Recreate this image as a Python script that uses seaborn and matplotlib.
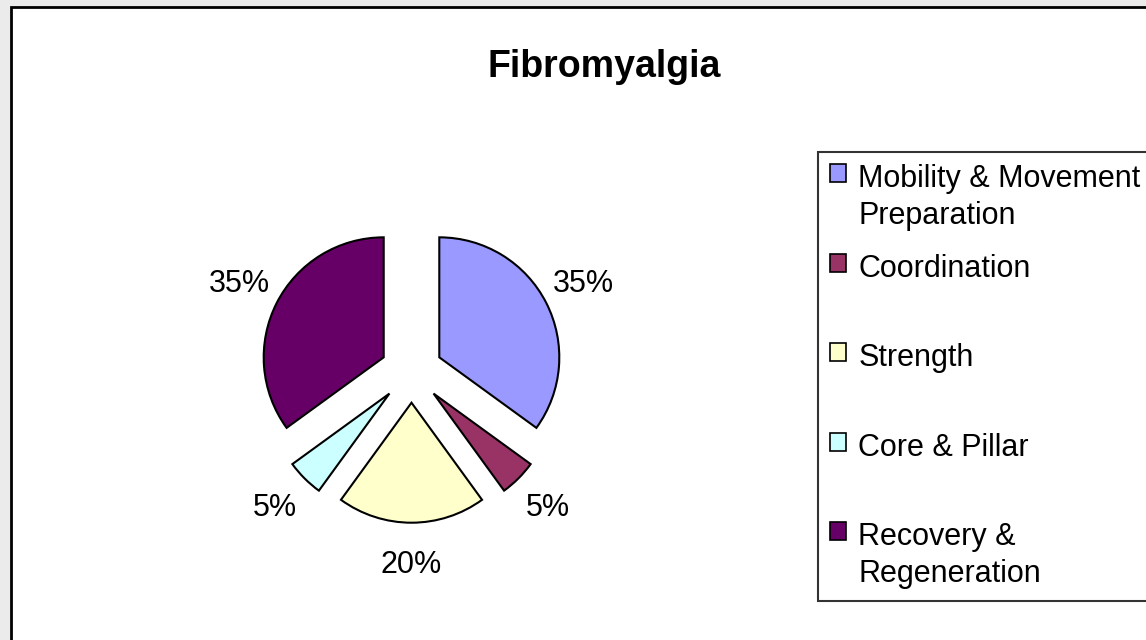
import numpy as np
import pandas as pd
import matplotlib.pyplot as plt
import matplotlib.patches as mpatches
import seaborn as sns

# Chart values
categories = ["Mobility & Movement\nPreparation", "Coordination", "Strength",
              "Core & Pillar", "Recovery &\nRegeneration"]
shares = [35, 5, 20, 5, 35]
colors = ["#9999FF", "#993366", "#FFFFCC", "#CCFFFF", "#660066"]

sns.set_theme(style="white")
plt.rcParams['font.family'] = ['Liberation Sans', 'DejaVu Sans']
plt.rcParams['text.color'] = 'black'

W, H = 1146, 640
fig = plt.figure(figsize=(W / 100, H / 100), dpi=100)
fig.patch.set_facecolor("#EBEBEB")

# white chart area with black border (runs off right/bottom edge)
area = mpatches.Rectangle((11 / W, -0.1), 1.2, (H - 7) / H + 0.1,
                          transform=fig.transFigure, facecolor="white",
                          edgecolor="black", linewidth=2, zorder=0)
fig.add_artist(area)

fig.text(604 / W, 1 - 77 / H, "Fibromyalgia", ha="center", va="baseline",
         fontsize=27, fontweight="bold", color="black")

# pie axes: centre (411.5, 371.5) px, radius 120 px
cx, cy, r = 411.5, 371.5, 120
ax = fig.add_axes([(cx - 2 * r) / W, (H - cy - 2 * r) / H, 4 * r / W, 4 * r / H])
ax.patch.set_alpha(0)

wedges, _, autotexts = ax.pie(
    shares, explode=[0.26] * len(shares), colors=colors, startangle=90,
    counterclock=False, autopct='%1.0f%%', pctdistance=1.35,
    wedgeprops=dict(edgecolor="black", linewidth=1.5),
    textprops=dict(fontsize=22, color="black"))
ax.set_xlim(-2, 2)
ax.set_ylim(-2, 2)
ax.set_aspect('equal')
ax.axis('off')

legend_labels = [c if "\n" in c else c + "\n" for c in categories]
leg = fig.legend(wedges, legend_labels, loc="upper left",
                 bbox_to_anchor=(818 / W, 1 - 152 / H), borderaxespad=0,
                 fontsize=22, frameon=True, fancybox=False, shadow=False,
                 handlelength=0.52, handleheight=0.52, handletextpad=0.4,
                 borderpad=0.4, labelspacing=0.74, labelcolor="black")
leg.get_frame().set_edgecolor("black")
leg.get_frame().set_linewidth(1.5)
for t in leg.get_texts():
    t.set_linespacing(1.3)
for col in leg._legend_handle_box.get_children():
    for item in col.get_children():
        item.align = "top"
for h in leg.legend_handles:
    h.set_edgecolor("black")
    h.set_linewidth(1.2)

fig.savefig("out.png", dpi=100, facecolor=fig.get_facecolor())
